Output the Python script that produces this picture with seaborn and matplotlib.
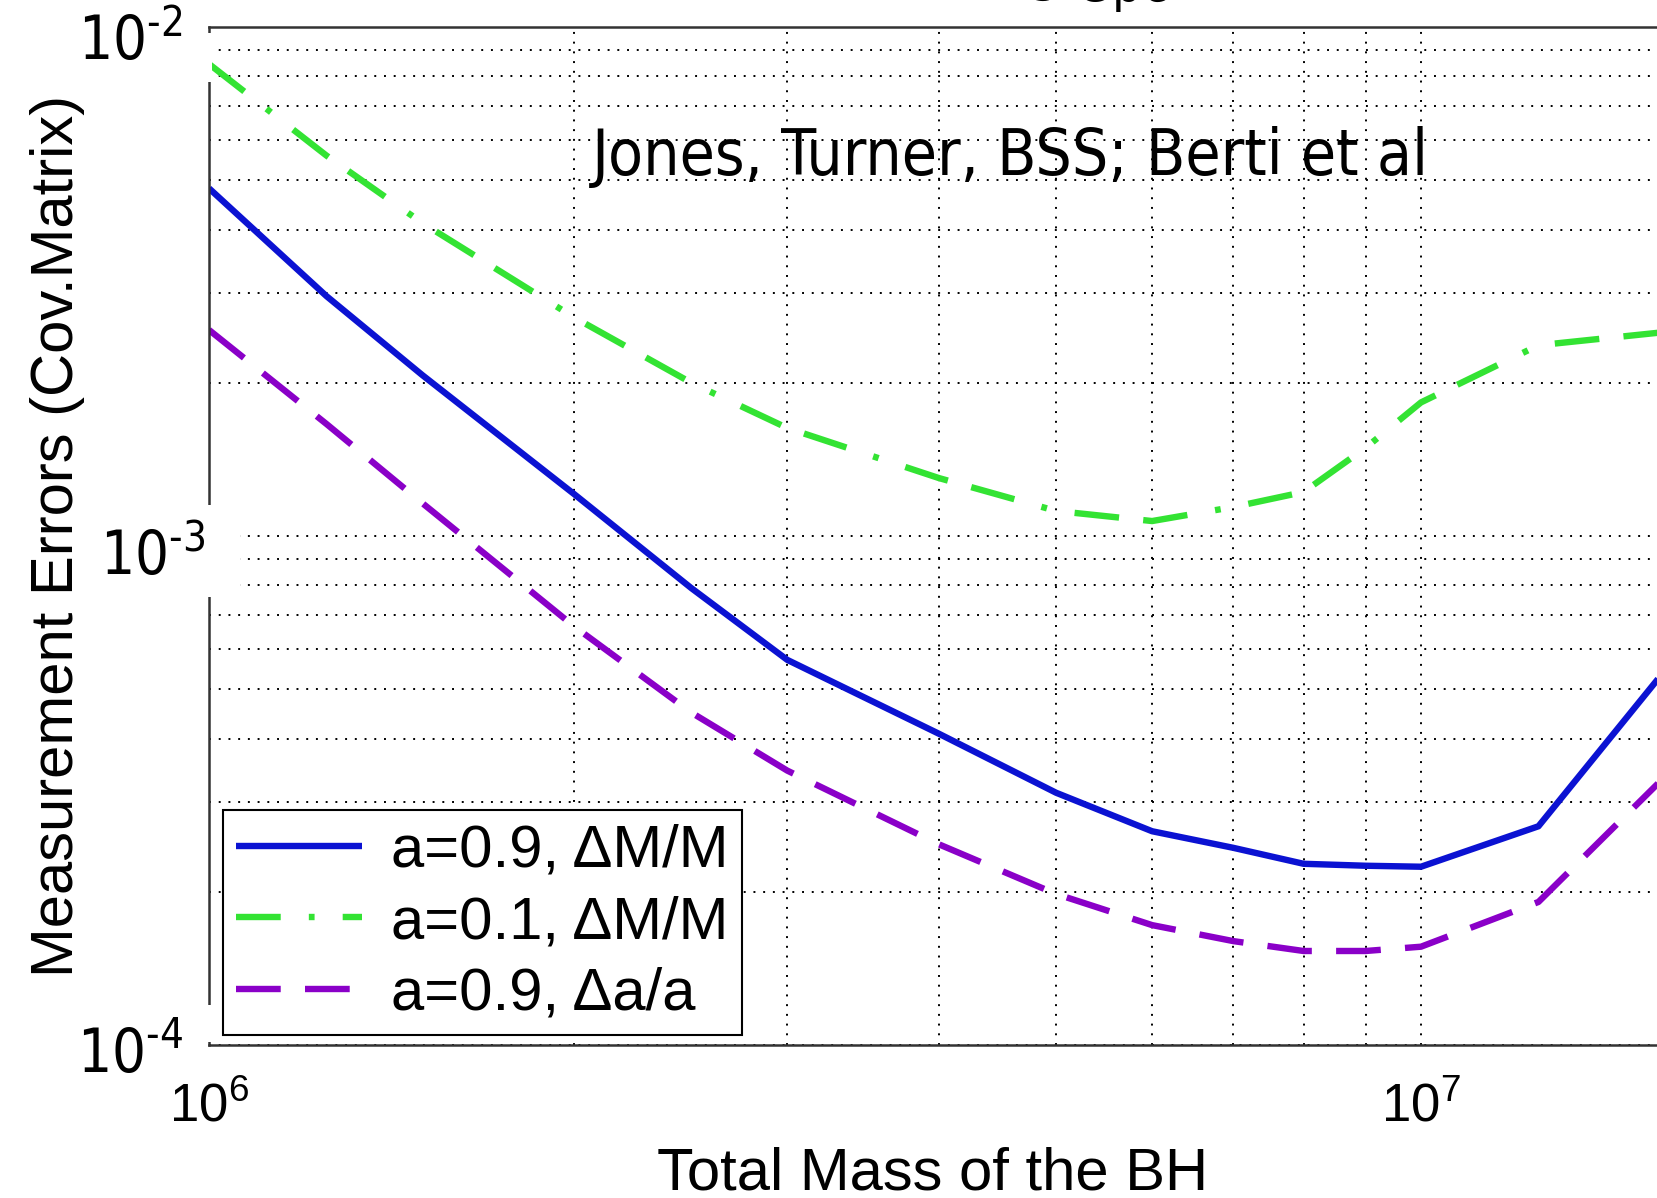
import numpy as np
import pandas as pd
import matplotlib
matplotlib.use("Agg")
import matplotlib.pyplot as plt
import matplotlib.font_manager as fm
from matplotlib.ticker import LogLocator, NullFormatter
from matplotlib.patches import Rectangle
from matplotlib.transforms import blended_transform_factory, ScaledTranslation
import seaborn as sns

# ---------------- data ----------------
mass = [1.0e6, 1.25e6, 1.5e6, 2.0e6, 2.5e6, 3.0e6, 4.0e6, 5.0e6, 6.0e6,
        7.0e6, 8.0e6, 9.0e6, 1.0e7, 1.25e7, 1.6e7]
err_a09_dM = [4.82e-3, 2.96e-3, 2.07e-3, 1.21e-3, 7.90e-4, 5.71e-4, 4.09e-4,
              3.13e-4, 2.63e-4, 2.44e-4, 2.27e-4, 2.25e-4, 2.24e-4, 2.69e-4, 5.55e-4]
err_a01_dM = [8.46e-3, 5.59e-3, 4.12e-3, 2.69e-3, 2.00e-3, 1.63e-3, 1.30e-3,
              1.12e-3, 1.07e-3, 1.14e-3, 1.22e-3, 1.49e-3, 1.83e-3, 2.37e-3, 2.52e-3]
err_a09_da = [2.54e-3, 1.66e-3, 1.16e-3, 6.65e-4, 4.50e-4, 3.46e-4, 2.48e-4,
              1.98e-4, 1.72e-4, 1.60e-4, 1.53e-4, 1.53e-4, 1.56e-4, 1.91e-4, 3.42e-4]
series_labels = ["a=0.9, \u0394M/M", "a=0.1, \u0394M/M", "a=0.9, \u0394a/a"]

xtick_values = [1e6, 1e7]
xtick_labels = [r"$10^{6}$", r"$10^{7}$"]
ytick_values = [1e-2, 1e-3, 1e-4]
ytick_labels = ["$10^{\u20102}$", "$10^{\u20103}$", "$10^{\u20104}$"]
x_label = "Total Mass of the BH"
y_label = "Measurement Errors (Cov.Matrix)"
note_text = "Jones, Turner, BSS; Berti et al"
title_fragment = "3 Gpc"

# ---------------- styling ----------------
sns.set_style("white")
plt.rcParams["font.family"] = ["Liberation Sans", "DejaVu Sans"]
plt.rcParams["mathtext.default"] = "regular"
for k in ["text.color", "axes.labelcolor", "xtick.color", "ytick.color"]:
    plt.rcParams[k] = "black"

W, H = 1657, 1198
fig = plt.figure(figsize=(W / 100, H / 100), dpi=100)
ax_l, ax_t, ax_b = 209, 27, 1045
ax = fig.add_axes([ax_l / W, (H - ax_b) / H, (W - ax_l) / W, (ax_b - ax_t) / H])


def slide_font(size):
    for f in fm.fontManager.ttflist:
        if f.fname.endswith("DejaVuSansCondensed.ttf"):
            return fm.FontProperties(fname=f.fname, size=size)
    return fm.FontProperties(family="DejaVu Sans", size=size * 0.9)


def helv(size):
    return fm.FontProperties(family="Liberation Sans", size=size)


df = pd.DataFrame({
    "mass": mass * 3,
    "err": err_a09_dM + err_a01_dM + err_a09_da,
    "series": sum([[s] * len(mass) for s in series_labels], []),
})

ax.set_xscale("log")
ax.set_yscale("log")

colors = ["#0b12d2", "#33e333", "#8a00c8"]
dash_patterns = [None, (7.0, 4.4, 0.9, 4.4, 7.0, 3.8), (7.0, 3.8)]
for lab, col, dsh in zip(series_labels, colors, dash_patterns):
    sub = df[df["series"] == lab]
    sns.lineplot(data=sub, x="mass", y="err", ax=ax, color=col, linewidth=4.6,
                 label=lab, estimator=None, sort=False)
    line = ax.lines[-1]
    line.set_solid_capstyle("butt")
    line.set_dash_capstyle("butt")
    if dsh is not None:
        line.set_dashes(dsh)

ax.set_xlim(1e6, 10 ** (6 + (W - ax_l) / 1212.0))
ax.set_ylim(1e-4, 1e-2)

# grid
ax.xaxis.set_minor_locator(LogLocator(base=10, subs=np.arange(2, 10)))
ax.yaxis.set_minor_locator(LogLocator(base=10, subs=np.arange(2, 10)))
ax.xaxis.set_minor_formatter(NullFormatter())
ax.yaxis.set_minor_formatter(NullFormatter())
ax.grid(True, which="both", color="black", linestyle=(0, (1, 4)), linewidth=1.4)

ax.set_xticks(xtick_values, labels=xtick_labels)
for t in ax.get_xticklabels():
    t.set_fontproperties(helv(38))
ax.set_yticks(ytick_values, labels=[""] * len(ytick_values))
ax.tick_params(which="both", length=0)
ax.tick_params(axis="x", pad=27)

for side in ["top", "bottom", "left"]:
    ax.spines[side].set_color("#333333")
    ax.spines[side].set_linewidth(1.8)
ax.spines["right"].set_visible(False)

ax.set_xlabel(x_label, fontproperties=helv(43))
ax.xaxis.set_label_coords(0.5, (ax_b - 1189) / (ax_b - ax_t))
ax.xaxis.label.set_va("baseline")
ax.set_ylabel(y_label, fontproperties=helv(43))
ax.yaxis.set_label_coords((73 - ax_l) / (W - ax_l), 0.5)
ax.yaxis.label.set_va("baseline")

# legend
handles, labels = ax.get_legend_handles_labels()
leg = ax.legend(handles, labels, loc="lower left",
                bbox_to_anchor=(14 / (W - ax_l), 10 / (ax_b - ax_t)),
                borderaxespad=0, prop=helv(43), handlelength=2.1,
                handletextpad=0.5, borderpad=0.22, labelspacing=0.28,
                frameon=True, fancybox=False, framealpha=1, edgecolor="black")
leg.get_frame().set_linewidth(1.5)

# annotation from the slide
ax.text((592 - ax_l) / (W - ax_l), (ax_b - 175) / (ax_b - ax_t), note_text,
        transform=ax.transAxes, ha="left", va="baseline",
        fontproperties=slide_font(46), zorder=6)

# white boxes of the pasted slide labels
for (x0, y0, x1, y1) in [(90, 505, 240, 597), (196, 33, 212, 82), (196, 1005, 212, 1042)]:
    fig.add_artist(Rectangle((x0 / W, (H - y1) / H), (x1 - x0) / W, (y1 - y0) / H,
                             transform=fig.transFigure, facecolor="white",
                             edgecolor="none", zorder=2.5))

# y tick labels of the slide (drawn above the boxes)
ytrans = blended_transform_factory(fig.transFigure, ax.transData)
y_right_px = [183, 206, 183]
y_drop_px = [33, 39, 28]
for val, lab, xr, dy in zip(ytick_values, ytick_labels, y_right_px, y_drop_px):
    tr = ytrans + ScaledTranslation(0, -dy / 100, fig.dpi_scale_trans)
    fig.text(xr / W, val, lab, transform=tr, ha="right", va="baseline",
             fontproperties=slide_font(43), zorder=4)

fig.text(1030 / W, 1 - 1.5 / H, title_fragment, ha="left", va="baseline",
         fontproperties=slide_font(38), zorder=4)

fig.savefig("out.png", dpi=100)
